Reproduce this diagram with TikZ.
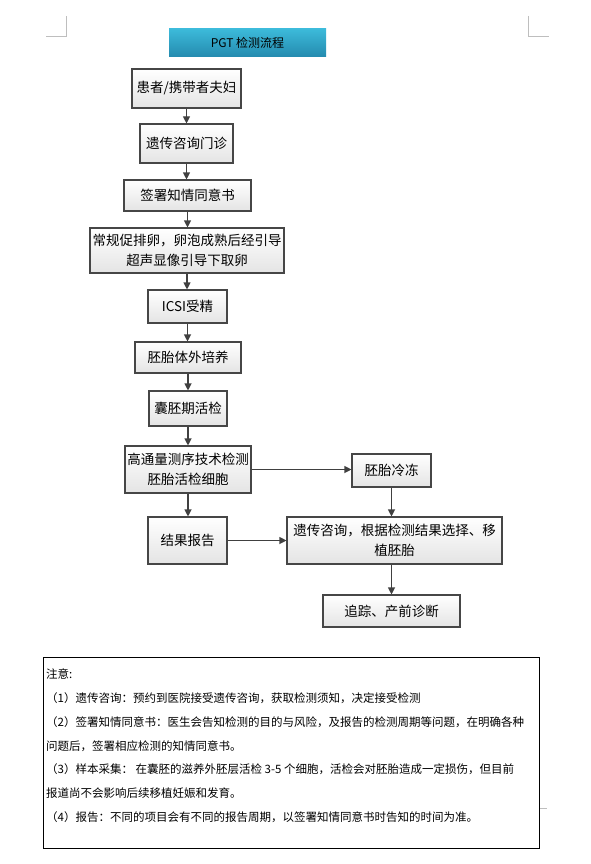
\documentclass[tikz,border=0pt]{standalone}
\usepackage{fontspec}
\setmainfont{Noto Sans CJK SC}
\newfontfamily\cjk{Noto Sans CJK SC}
\usetikzlibrary{arrows.meta}

\begin{document}
\begin{tikzpicture}[x=1pt, y=-1pt,
			flow box/.style={draw={rgb,255:red,70;green,70;blue,70}, line width=1.1pt, top color=white, bottom color={rgb,255:red,228;green,228;blue,228}, align=center, inner sep=2pt, font={\cjk\fontsize{13.5}{20}\selectfont}},
			head box/.style={top color={rgb,255:red,60;green,186;blue,218}, bottom color={rgb,255:red,36;green,138;blue,174}, minimum width=157pt, minimum height=28pt, font={\cjk\fontsize{12}{14}\selectfont}},
			link/.style={draw={rgb,255:red,64;green,64;blue,64}, line width=1.1pt, -{Triangle[length=7pt,width=7pt]}},
			mark line/.style={draw={rgb,255:red,190;green,190;blue,190}, line width=0.8pt}
			]
			\useasboundingbox (0,0) rectangle (590,864);
			
			\draw[mark line] (46,36) -- (66,36) -- (66,16);
			\draw[mark line] (528,16) -- (528,36) -- (549,36);
			\draw[mark line] (539,808) -- (547,808);
			
			\node[head box] (title) at (247.5,43) {PGT 检测流程};
			
			\node[flow box, minimum width=109pt, minimum height=39pt] (couple) at (186.5,88.5) {患者/携带者夫妇};
			\node[flow box, minimum width=93pt, minimum height=39pt] (clinic) at (186.5,143.5) {遗传咨询门诊};
			\node[flow box, minimum width=127pt, minimum height=31pt] (consent) at (187.5,195.5) {签署知情同意书};
			\node[flow box, minimum width=194pt, minimum height=45pt] (retrieval) at (187,250.5) {常规促排卵，卵泡成熟后经引导\\超声显像引导下取卵};
			\node[flow box, minimum width=79pt, minimum height=33pt] (icsi) at (187.5,306.5) {ICSI受精};
			\node[flow box, minimum width=106pt, minimum height=31pt] (culture) at (188,357.5) {胚胎体外培养};
			\node[flow box, minimum width=78pt, minimum height=35pt] (biopsy) at (188,408.5) {囊胚期活检};
			\node[flow box, minimum width=126pt, minimum height=47pt] (sequencing) at (188,469.5) {高通量测序技术检测\\胚胎活检细胞};
			\node[flow box, minimum width=79pt, minimum height=33pt] (freeze) at (391.5,470.5) {胚胎冷冻};
			\node[flow box, minimum width=79pt, minimum height=47pt] (report) at (187.5,540.5) {结果报告};
			\node[flow box, minimum width=215pt, minimum height=47pt] (transfer) at (394.5,540.5) {遗传咨询，根据检测结果选择、移\\植胚胎};
			\node[flow box, minimum width=137pt, minimum height=32pt] (followup) at (391.5,611) {追踪、产前诊断};
			
			\draw[link] (couple.south) -- (couple.south |- clinic.north);
			\draw[link] (clinic.south) -- (clinic.south |- consent.north);
			\draw[link] (consent.south) -- (consent.south |- retrieval.north);
			\draw[link] (retrieval.south) -- (retrieval.south |- icsi.north);
			\draw[link] (icsi.south) -- (icsi.south |- culture.north);
			\draw[link] (culture.south) -- (culture.south |- biopsy.north);
			\draw[link] (biopsy.south) -- (biopsy.south |- sequencing.north);
			\draw[link] (sequencing.east) -- (sequencing.east -| freeze.west);
			\draw[link] (sequencing.south) -- (sequencing.south |- report.north);
			\draw[link] (freeze.south) -- (freeze.south |- transfer.north);
			\draw[link] (report.east) -- (report.east -| transfer.west);
			\draw[link] (followup.north |- transfer.south) -- (followup.north);
			
			\node[draw, line width=1pt, minimum width=496pt, minimum height=191pt] (notes) at (291,752.5) {};
			\node[anchor=north west, align=left, inner sep=0pt, font={\cjk\fontsize{11.5}{23.7}\selectfont}] (notetext) at (46,669) {注意:\\
				（1）遗传咨询：预约到医院接受遗传咨询，获取检测须知，决定接受检测\\
				（2）签署知情同意书：医生会告知检测的目的与风险，及报告的检测周期等问题，在明确各种\\
				问题后，签署相应检测的知情同意书。\\
				（3）样本采集： 在囊胚的滋养外胚层活检 3-5 个细胞，活检会对胚胎造成一定损伤，但目前\\
				报道尚不会影响后续移植妊娠和发育。\\
				（4）报告：不同的项目会有不同的报告周期，以签署知情同意书时告知的时间为准。};
		\end{tikzpicture}
\end{document}
